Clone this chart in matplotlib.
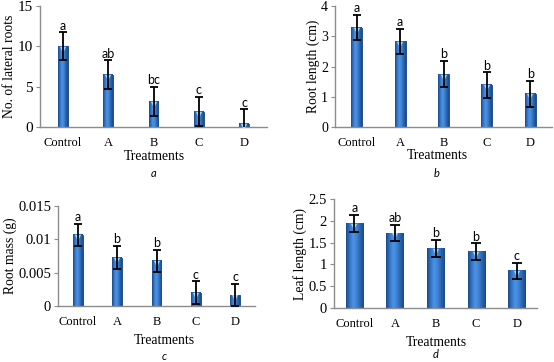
import numpy as np
import matplotlib
matplotlib.use("Agg")
import matplotlib.pyplot as plt
from matplotlib.colors import LinearSegmentedColormap
from matplotlib.transforms import ScaledTranslation

treatments = ["Control", "A", "B", "C", "D"]

lateral_roots = [10.0, 6.5, 3.2, 1.9, 0.4]
lateral_roots_err = [1.75, 1.75, 1.8, 1.8, 1.8]
lateral_roots_sig = ["a", "ab", "bc", "c", "c"]

root_length = [3.28, 2.83, 1.75, 1.39, 1.10]
root_length_err = [0.42, 0.42, 0.43, 0.42, 0.43]
root_length_sig = ["a", "a", "b", "b", "b"]

root_mass = [0.01065, 0.00725, 0.00675, 0.0020, 0.00165]
root_mass_err = [0.0017, 0.00175, 0.0017, 0.0017, 0.0017]
root_mass_sig = ["a", "b", "b", "c", "c"]

leaf_length = [1.94, 1.72, 1.37, 1.29, 0.85]
leaf_length_err = [0.20, 0.19, 0.19, 0.19, 0.19]
leaf_length_sig = ["a", "ab", "b", "b", "c"]

SERIF = "Liberation Serif"
SANS = "Lato"
GRAY = "#8c8c8c"
bar_cmap = LinearSegmentedColormap.from_list(
    "cyl", ["#1b4a88", "#3274c6", "#4d94e6", "#3f82d4", "#2963ac", "#1b4a88"])
grad = np.linspace(0, 1, 64).reshape(1, -1)

W, H = 554, 362
fig = plt.figure(figsize=(W / 100, H / 100), dpi=100)


def px_axes(left, top, right, bottom):
    return fig.add_axes([left / W, 1 - bottom / H, (right - left) / W, (bottom - top) / H])


def panel(ax, vals, errs, sig, ymax, ystep, ylabel, width, ytick_fs, yfmt,
          capsize=3):
    x = np.arange(len(treatments))
    ax.bar(x, vals, width=width, color="#3274c6", edgecolor="#16407a",
           linewidth=0.6, zorder=2)
    for xi, v in zip(x, vals):
        ax.imshow(grad, cmap=bar_cmap, aspect="auto", zorder=2.5,
                  extent=(xi - width / 2, xi + width / 2, 0, v))
    off = ScaledTranslation(0, -2.5 / 72, fig.dpi_scale_trans)
    ax.plot(x, vals, ls="none", marker="v", ms=4.5, mew=0, color="#9fdcf7",
            zorder=3, transform=ax.transData + off)
    ax.errorbar(x, vals, yerr=errs, fmt="none", ecolor="black", elinewidth=1.3,
                capsize=capsize, capthick=1.3, zorder=4)
    for xi, v, e, s in zip(x, vals, errs, sig):
        ax.annotate(s, (xi, v + e), xytext=(0, 0.5), textcoords="offset points",
                    ha="center", va="bottom", fontsize=9, family=SANS, zorder=5)
    ax.set_xlim(-0.5, len(treatments) - 0.5)
    ax.set_ylim(0, ymax)
    ticks = np.arange(0, ymax + ystep / 2, ystep)
    ax.set_yticks(ticks)
    ax.set_yticklabels([yfmt(t) for t in ticks], family=SERIF, fontsize=ytick_fs)
    ax.set_xticks(x)
    ax.set_xticklabels(treatments, family=SERIF, fontsize=9)
    ax.tick_params(axis="x", length=0, pad=7)
    ax.tick_params(axis="y", length=3, color=GRAY, pad=2)
    for side in ("top", "right"):
        ax.spines[side].set_visible(False)
    for side in ("left", "bottom"):
        ax.spines[side].set_color(GRAY)
        ax.spines[side].set_linewidth(1.0)
    ax.set_ylabel(ylabel, family=SERIF, fontsize=9.8, labelpad=1)


def g(t):
    return "%g" % round(t, 4)


ax_a = px_axes(40, 6, 267, 127)
panel(ax_a, lateral_roots, lateral_roots_err, lateral_roots_sig, 15, 5,
      "No. of lateral roots", 0.22, 11, g)

ax_b = px_axes(335, 6, 552, 127)
panel(ax_b, root_length, root_length_err, root_length_sig, 4, 1,
      "Root length (cm)", 0.25, 10, g)

ax_c = px_axes(58, 206, 255, 306)
panel(ax_c, root_mass, root_mass_err, root_mass_sig, 0.015, 0.005,
      "Root mass (g)", 0.25, 10.5, g)

ax_d = px_axes(334, 199, 537, 308)
panel(ax_d, leaf_length, leaf_length_err, leaf_length_sig, 2.5, 0.5,
      "Leaf length (cm)", 0.42, 10.5, g, capsize=3.5)

for cx, ty, ly, letter in [(154, 156, 173, "a"), (437, 155, 173, "b"),
                           (164, 340, 357, "c"), (436, 342, 354, "d")]:
    fig.text(cx / W, 1 - ty / H, "Treatments", ha="center", va="center",
             family=SERIF, fontsize=9.8)
    fig.text(cx / W, 1 - ly / H, letter, ha="center", va="center",
             family=SANS, style="italic", fontsize=8)

fig.savefig("out.png", dpi=100)
